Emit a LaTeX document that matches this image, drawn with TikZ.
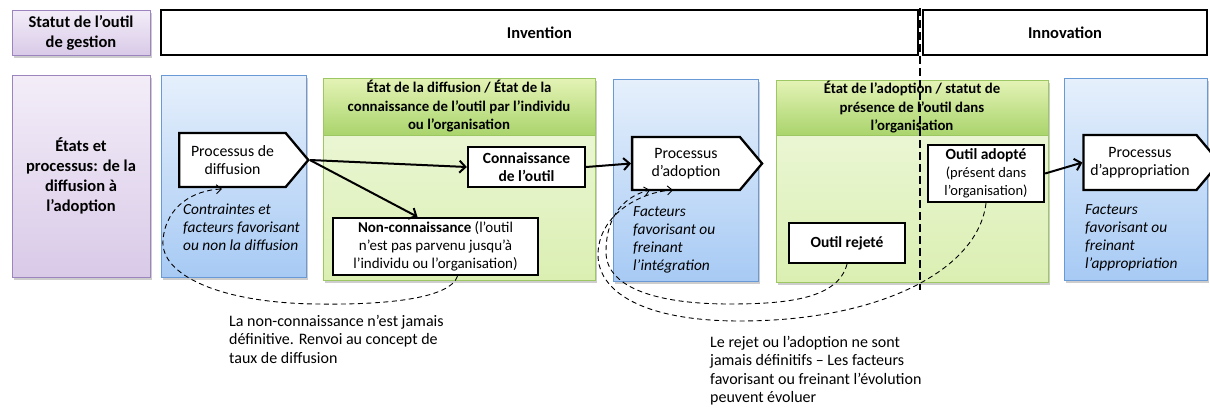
\documentclass[tikz,border=0pt]{standalone}
\usepackage{fontspec}
\setmainfont{Carlito}
\usetikzlibrary{arrows.meta,shapes.symbols,shadows,calc}
\definecolor{purpB}{HTML}{9C84BE}
\definecolor{purpT}{HTML}{F3EDF8}
\definecolor{purpL}{HTML}{D9CAE8}
\definecolor{blueB}{HTML}{6A9AD5}
\definecolor{blueT}{HTML}{E6F0FC}
\definecolor{blueL}{HTML}{A7CAF4}
\definecolor{greenB}{HTML}{9CC763}
\definecolor{greenT}{HTML}{F0F9E0}
\definecolor{greenL}{HTML}{DBEFB2}
\definecolor{ghT}{HTML}{E4F3B6}
\definecolor{ghL}{HTML}{AAD46C}
\begin{document}
\begin{tikzpicture}[x=1pt,y=-1pt,
  every node/.style={font=\fontsize{15.5}{18}\selectfont},
  base/.style={rectangle, inner sep=0pt, outer sep=0pt, anchor=north west},
  shad/.style={drop shadow={shadow xshift=2pt,shadow yshift=-2.5pt,opacity=0.28,fill=black!70}},
  purplebox/.style={base, shad, draw=purpB, line width=1pt, top color=purpT, bottom color=purpL, align=center, font=\fontsize{16.5}{20}\selectfont\bfseries},
  bluebox/.style={base, shad, draw=blueB, line width=1pt, top color=blueT, bottom color=blueL},
  greenbox/.style={base, shad, draw=greenB, line width=1pt, top color=greenT, bottom color=greenL},
  greenhead/.style={base, draw=greenB, line width=1pt, top color=ghT, bottom color=ghL, align=center, font=\fontsize{14.8}{18.5}\selectfont\bfseries},
  statusbox/.style={base, draw=black, line width=2.5pt, fill=white, font=\fontsize{16.5}{18}\selectfont\bfseries},
  proc/.style={signal, signal to=east, signal pointer angle=100, draw=black, line width=2.3pt, fill=white, inner sep=0pt, align=center, font=\fontsize{15.8}{18.5}\selectfont},
  wbox/.style={rectangle, draw=black, line width=2.3pt, fill=white, inner sep=0pt, align=center},
  arr/.style={line width=2pt, -{Straight Barb[length=6pt,width=12pt]}},
  dcurve/.style={line width=0.9pt, dash pattern=on 5pt off 3.5pt, -{Straight Barb[length=5pt,width=9pt]}},
  note/.style={anchor=north west, inner sep=0pt, align=left, font=\fontsize{16}{18.5}\selectfont},
  facts/.style={anchor=north west, inner sep=0pt, align=left, font=\fontsize{15.4}{18}\selectfont\itshape}
]
\useasboundingbox (0,0) rectangle (1210,410);

% top row
\node[purplebox, minimum width=138, minimum height=45] (statut) at (12,10) {Statut de l’outil\\de gestion};
\node[statusbox, minimum width=757, minimum height=45] (invention) at (161,10) {Invention};
\node[statusbox, minimum width=284, minimum height=45] (innovation) at (923,10) {Innovation};

% second row backgrounds
\node[purplebox, minimum width=138, minimum height=202] (etats) at (12,75) {États et\\processus: de la\\diffusion à\\l’adoption};
\node[bluebox, minimum width=145, minimum height=202] (blue1) at (161,75) {};
\node[greenbox, minimum width=272, minimum height=202] (green1) at (323,78) {};
\node[greenhead, minimum width=272, minimum height=57] (head1) at (323,78) {État de la diffusion / État de la\\connaissance de l’outil par l’individu\\ou l’organisation};
\node[bluebox, minimum width=145, minimum height=202] (blue2) at (613,79) {};
\node[greenbox, minimum width=272, minimum height=202] (green2) at (776,80) {};
\node[greenhead, minimum width=272, minimum height=55] (head2) at (776,80) {État de l’adoption / statut de\\présence de l’outil dans\\l’organisation};
\node[bluebox, minimum width=143, minimum height=202] (blue3) at (1064,78) {};

% vertical dashed separator
\coordinate (septop) at (920,8);
\coordinate (sepbot) at (920,290);
\draw[line width=2.6pt, dash pattern=on 8pt off 4pt] (septop) -- (sepbot);

% process nodes
\node[proc, minimum width=129, minimum height=54] (pdiff) at (232.5,160) {Processus de\\diffusion};
\node[proc, minimum width=130, minimum height=53] (padopt) at (686,163.5) {Processus\\d’adoption};
\node[proc, minimum width=136, minimum height=55] (pappr) at (1140,162.5) {Processus\\d’appropriation};

% state nodes
\node[wbox, minimum width=117, minimum height=40, font=\fontsize{15.5}{18}\selectfont\bfseries] (conn) at (526.5,167) {Connaissance\\de l’outil};
\node[wbox, minimum width=205, minimum height=57, font=\fontsize{15}{18}\selectfont] (noncon) at (435.5,246.5) {\textbf{Non-connaissance} (l’outil\\n’est pas parvenu jusqu’à\\l’individu ou l’organisation)};
\node[wbox, minimum width=116, minimum height=40, font=\fontsize{15.5}{18}\selectfont\bfseries] (rejete) at (847,243) {Outil rejeté};
\node[wbox, minimum width=116, minimum height=57, font=\fontsize{15.5}{18}\selectfont] (adopte) at (986,173.5) {\textbf{Outil adopté}\\{\fontsize{14.5}{16.5}\selectfont (présent dans}\\{\fontsize{14.5}{16.5}\selectfont l’organisation)}};

% factor texts
\node[facts] (f1) at (183,204) {Contraintes et\\facteurs favorisant\\ou non la diffusion};
\node[facts] (f2) at (633,206) {Facteurs\\favorisant ou\\freinant\\l’intégration};
\node[facts] (f3) at (1085,204) {Facteurs\\favorisant ou\\freinant\\l’appropriation};

% arrows
\draw[arr] (pdiff.east) -- (conn.west);
\draw[arr] (pdiff.east) -- ($(noncon.north)+(-18,0)$);
\draw[arr] (conn.east) -- (padopt.west);
\draw[arr] (adopte.east) -- (pappr.west);

% dashed feedback curves
\coordinate (c1end) at (222,189);
\draw[dcurve] ($(noncon.south)+(22,0)$) .. controls (450,298) and (390,305) .. (317,304)
  .. controls (220,303) and (160,275) .. (163,240)
  .. controls (166,205) and (195,190) .. (c1end);
\coordinate (c2end) at (650,190);
\draw[dcurve] (rejete.south) .. controls (838,298) and (790,304) .. (730,304)
  .. controls (650,304) and (606,285) .. (606,252)
  .. controls (606,215) and (625,196) .. (c2end);
\coordinate (c3end) at (673,190);
\draw[dcurve] (adopte.south) .. controls (978,270) and (880,321) .. (740,321)
  .. controls (640,321) and (598,290) .. (598,255)
  .. controls (598,215) and (640,192) .. (c3end);

% notes
\node[note] (note1) at (229,315) {La non-connaissance n’est jamais\\définitive. Renvoi au concept de\\taux de diffusion};
\node[note] (note2) at (710,336) {Le rejet ou l’adoption ne sont\\jamais définitifs – Les facteurs\\favorisant ou freinant l’évolution\\peuvent évoluer};
\end{tikzpicture}
\end{document}
